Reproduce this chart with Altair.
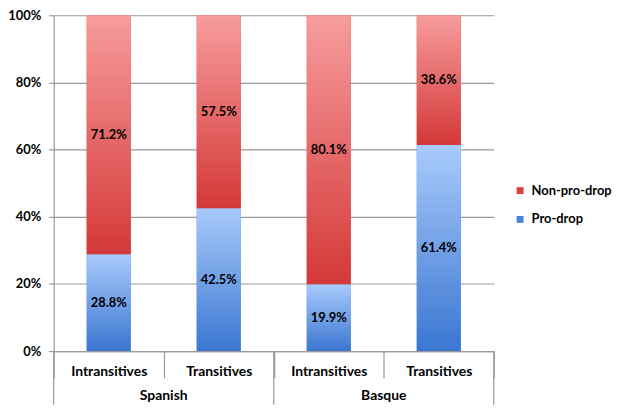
import altair as alt
import pandas as pd

# ---- data ----
languages = ["Spanish", "Spanish", "Basque", "Basque"]
verb_types = ["Intransitives", "Transitives", "Intransitives", "Transitives"]
pro_drop = [28.8, 42.5, 19.9, 61.4]
non_pro_drop = [71.2, 57.5, 80.1, 38.6]
legend_order = ["Non-pro-drop", "Pro-drop"]
y_ticks = [0, 20, 40, 60, 80, 100]
group_names = ["Spanish", "Basque"]

keys = [f"{l}|{t}" for l, t in zip(languages, verb_types)]

rows = []
for k, l, t, p, n in zip(keys, languages, verb_types, pro_drop, non_pro_drop):
    rows.append(dict(key=k, lang=l, vtype=t, series="Pro-drop", order=0, value=p))
    rows.append(dict(key=k, lang=l, vtype=t, series="Non-pro-drop", order=1, value=n))
df = pd.DataFrame(rows)

groups = pd.DataFrame({
    "lang": group_names,
    "start": [keys[languages.index(g)] for g in group_names],
    "mid": [keys[len(languages) - 1 - languages[::-1].index(g)] for g in group_names],
})
end_edge = pd.DataFrame({"key": [keys[-1]]})

# ---- style ----
W, H = 443, 338
FONT = "Lato"
GRAY = "#999999"
RED_SOLID = "#D94343"
BLUE_SOLID = "#4A84DC"

red_grad = alt.Gradient(
    gradient="linear", x1=0, x2=0, y1=0, y2=1,
    stops=[alt.GradientStop(color="#F79C9C", offset=0),
           alt.GradientStop(color="#D43838", offset=1)],
)
blue_grad = alt.Gradient(
    gradient="linear", x1=0, x2=0, y1=0, y2=1,
    stops=[alt.GradientStop(color="#A9CBFB", offset=0),
           alt.GradientStop(color="#3A76D1", offset=1)],
)

xscale = alt.Scale(domain=keys, paddingInner=0, paddingOuter=0)
yscale = alt.Scale(domain=[0, 100], nice=False)

x_axis = alt.Axis(
    title=None, labelAngle=0, grid=False,
    labelExpr="split(datum.value, '|')[1]",
    tickBand="extent", tickSize=27, labelPadding=-13,
    domainColor=GRAY, tickColor=GRAY, domainWidth=1.2, tickWidth=1.2,
    labelFont=FONT, labelFontSize=14, labelFontWeight="bold", labelColor="black",
)
y_axis = alt.Axis(
    title=None, values=y_ticks, labelExpr="datum.value + '%'",
    tickSize=5, labelPadding=8, grid=True,
    domainColor=GRAY, tickColor=GRAY, gridColor=GRAY,
    domainWidth=1.2, tickWidth=1.2, gridWidth=1.2,
    labelFont=FONT, labelFontSize=13, labelFontWeight="bold", labelColor="black",
)

base = alt.Chart(df).transform_stack(
    stack="value", groupby=["key"], as_=["y0", "y1"],
    sort=[alt.SortField("order", order="ascending")],
).transform_calculate(
    mid="(datum.y0 + datum.y1) / 2",
    label="format(datum.value, '.1f') + '%'",
)

x_enc = alt.X("key:N", scale=xscale, axis=x_axis)

solid = base.mark_bar(width={"band": 0.4}).encode(
    x=x_enc,
    y=alt.Y("y0:Q", scale=yscale, axis=y_axis),
    y2="y1:Q",
    color=alt.Color(
        "series:N",
        scale=alt.Scale(domain=legend_order, range=[RED_SOLID, BLUE_SOLID]),
        legend=alt.Legend(
            title=None, orient="none", legendX=463, legendY=170,
            symbolType="square", symbolSize=49, symbolStrokeWidth=0,
            labelFont=FONT, labelFontSize=13, labelFontWeight="bold",
            labelColor="black", rowPadding=15, labelOffset=5, padding=0,
            labelLimit=200,
        ),
    ),
)

pro_layer = base.transform_filter(alt.datum.series == "Pro-drop").mark_bar(
    width={"band": 0.4}, fill=blue_grad
).encode(x=x_enc, y=alt.Y("y0:Q", scale=yscale, axis=y_axis), y2="y1:Q")

non_layer = base.transform_filter(alt.datum.series == "Non-pro-drop").mark_bar(
    width={"band": 0.4}, fill=red_grad
).encode(x=x_enc, y=alt.Y("y0:Q", scale=yscale, axis=y_axis), y2="y1:Q")

labels = base.mark_text(
    font=FONT, fontSize=13, fontWeight="bold", color="black", baseline="middle"
).encode(
    x=x_enc,
    y=alt.Y("mid:Q", scale=yscale, axis=y_axis),
    text="label:N",
)

group_rules = alt.Chart(groups).mark_rule(color=GRAY, strokeWidth=1.2).encode(
    x=alt.X("start:N", scale=xscale, axis=x_axis, bandPosition=0),
    y=alt.value(H),
    y2=alt.value(H + 54),
)
end_rule = alt.Chart(end_edge).mark_rule(color=GRAY, strokeWidth=1.2).encode(
    x=alt.X("key:N", scale=xscale, axis=x_axis, bandPosition=1),
    y=alt.value(H),
    y2=alt.value(H + 54),
)
group_text = alt.Chart(groups).mark_text(
    font=FONT, fontSize=14, fontWeight="bold", color="black", baseline="middle"
).encode(
    x=alt.X("mid:N", scale=xscale, axis=x_axis, bandPosition=0),
    y=alt.value(H + 45),
    text="lang:N",
)

chart = alt.layer(
    solid, pro_layer, non_layer, labels, group_rules, end_rule, group_text
).properties(
    width=W, height=H,
    autosize=alt.AutoSizeParams(type="none"),
    padding={"left": 46, "top": 6, "right": 120, "bottom": 54},
).configure_view(stroke=None)

chart.save("out.html", embed_options={"renderer": "svg", "actions": False})
